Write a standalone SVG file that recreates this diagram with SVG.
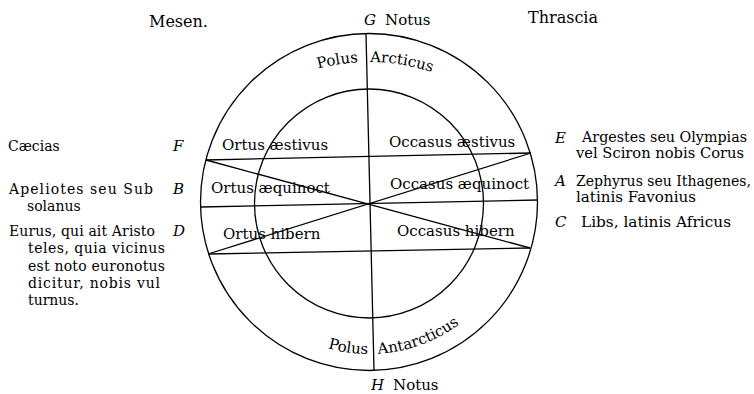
<svg xmlns="http://www.w3.org/2000/svg" width="754" height="394" viewBox="0 0 754 394">
<style>
  .ln{fill:none;stroke:#000;stroke-width:1.3}
  .t{font-family:"DejaVu Serif","Liberation Serif",serif;font-size:15px;fill:#000}
  .s{font-family:"DejaVu Serif","Liberation Serif",serif;font-size:14px;fill:#000}
  .it{font-family:"DejaVu Serif","Liberation Serif",serif;font-size:15px;font-style:italic;fill:#000}
  .big{font-size:16px}
</style>
<defs>
  <path id="topArc" d="M 229 119.2 A 200 200 0 0 1 509 119.2"/>
  <path id="botArc" d="M 229 261.2 A 152 152 0 0 0 509 261.2"/>
</defs>
<rect width="754" height="394" fill="#fff"/>
<g id="figure">
  <circle class="ln" cx="369" cy="202" r="168.5"/>
  <circle class="ln" cx="369" cy="203.5" r="114.5"/>
  <line class="ln" x1="366" y1="34" x2="374" y2="370"/>
  <line class="ln" x1="206" y1="160" x2="531" y2="153"/>
  <line class="ln" x1="200.5" y1="207" x2="538" y2="200"/>
  <line class="ln" x1="208" y1="254" x2="530" y2="248"/>
  <line class="ln" x1="206" y1="160" x2="530" y2="248"/>
  <line class="ln" x1="208" y1="254" x2="531" y2="153"/>
</g>
<g id="header">
  <text class="t big" x="149" y="27">Mesen.</text>
  <text class="it" x="364" y="25">G</text>
  <text class="t" x="385" y="25">Notus</text>
  <text class="t big" x="528" y="23">Thrascia</text>
</g>
<g id="footer">
  <text class="it" x="371" y="390">H</text>
  <text class="t" x="393" y="390">Notus</text>
</g>
<g id="poles">
  <text class="t"><textPath href="#topArc" startOffset="103.5">Polus</textPath></text>
  <text class="t"><textPath href="#topArc" startOffset="156">Arcticus</textPath></text>
  <text class="t"><textPath href="#botArc" startOffset="136">Polus</textPath></text>
  <text class="t"><textPath href="#botArc" startOffset="187">Antarcticus</textPath></text>
</g>
<g id="inner-labels">
  <text class="t" x="222" y="150">Ortus æstivus</text>
  <text class="t" x="211" y="193">Ortus æquinoct</text>
  <text class="t" x="223" y="239">Ortus hibern</text>
  <text class="t" x="389" y="147">Occasus æstivus</text>
  <text class="t" x="390" y="189">Occasus æquinoct</text>
  <text class="t" x="397" y="236">Occasus hibern</text>
</g>
<g id="left-labels">
  <text class="s" x="8" y="151">Cæcias</text>
  <text class="it" x="173" y="151">F</text>
  <text class="s" x="9" y="194" textLength="144" lengthAdjust="spacing">Apeliotes seu Sub</text>
  <text class="s" x="27" y="211">solanus</text>
  <text class="it" x="173" y="194">B</text>
  <text class="s" x="9" y="236" textLength="146" lengthAdjust="spacing">Eurus, qui ait Aristo</text>
  <text class="s" x="28" y="253.3" textLength="137" lengthAdjust="spacing">teles, quia vicinus</text>
  <text class="s" x="28" y="270.6" textLength="137" lengthAdjust="spacing">est noto euronotus</text>
  <text class="s" x="28" y="287.9" textLength="132" lengthAdjust="spacing">dicitur, nobis vul</text>
  <text class="s" x="28" y="305.2">turnus.</text>
  <text class="it" x="173" y="236">D</text>
</g>
<g id="right-labels">
  <text class="it" x="555" y="143">E</text>
  <text class="s" x="582" y="142" textLength="165" lengthAdjust="spacingAndGlyphs">Argestes seu Olympias</text>
  <text class="s" x="576" y="158" textLength="168" lengthAdjust="spacingAndGlyphs">vel Sciron nobis Corus</text>
  <text class="it" x="555" y="186">A</text>
  <text class="s" x="576" y="186" textLength="175" lengthAdjust="spacingAndGlyphs">Zephyrus seu Ithagenes,</text>
  <text class="s" x="576" y="202" textLength="120" lengthAdjust="spacingAndGlyphs">latinis Favonius</text>
  <text class="it" x="555" y="227">C</text>
  <text class="s" x="581" y="227" textLength="150" lengthAdjust="spacingAndGlyphs">Libs, latinis Africus</text>
</g>
</svg>
